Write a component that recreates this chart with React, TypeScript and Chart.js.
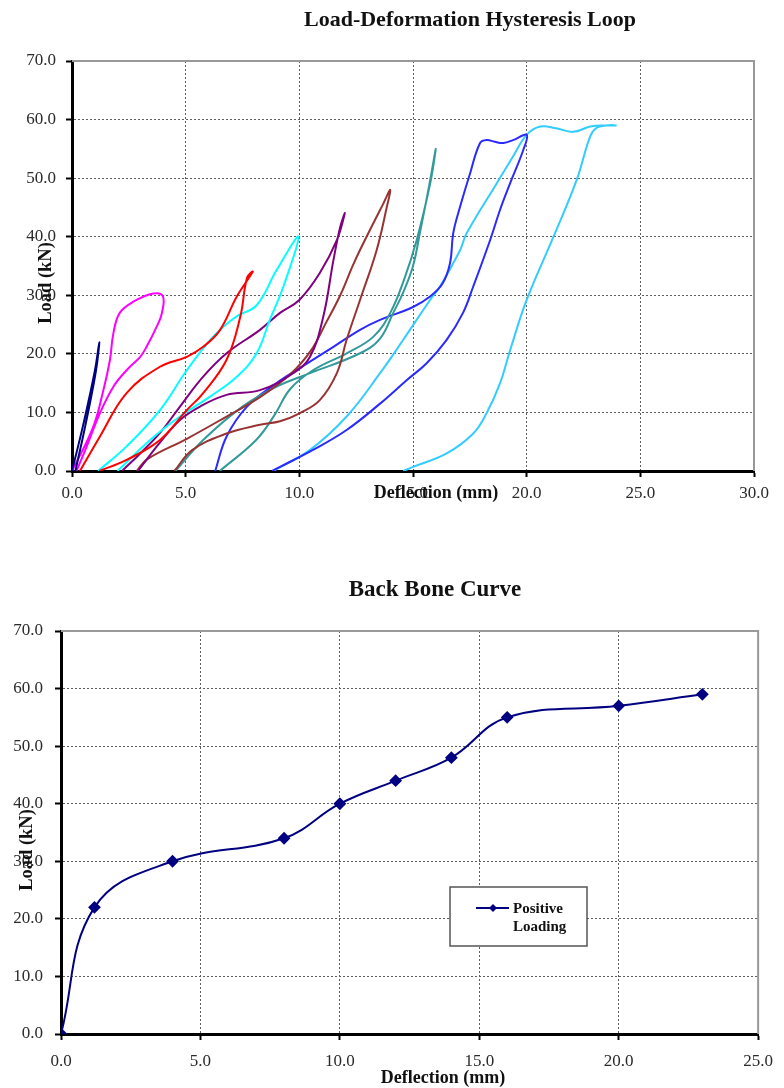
import React, { useEffect, useRef } from "react";
import { Chart, registerables } from "chart.js";

Chart.register(...registerables);

const SERIF = "'Liberation Serif', 'Times New Roman', serif";

const hystTitle = "Load-Deformation Hysteresis Loop";
const backboneTitle = "Back Bone Curve";
const xAxisTitle = "Deflection (mm)";
const yAxisTitle = "Load (kN)";
const legendLines = ["Positive", "Loading"];

const hystXMax = 30;
const backboneXMax = 25;
const loadMax = 70;

// Hysteresis loops (deflection mm, load kN)
const loop1X = [0, 0.5, 1.0, 1.2, 1.05, 0.6, 0.15];
const loop1Y = [0, 8, 17, 22, 17, 8, 0];

const loop2X = [0, 0.92, 1.38, 1.67, 1.82, 2.1, 2.7, 3.58, 4.0, 3.95, 3.72, 3.28, 3.0, 2.4, 1.82, 1.23, 0.65, 0.2];
const loop2Y = [0, 7.4, 13.8, 19, 23.5, 27, 28.9, 30.3, 29.8, 26.9, 24.6, 21.2, 19.5, 17.2, 14.4, 9.9, 4.2, 0];

const loop3X = [0.35, 1.23, 2.4, 3.87, 5.05, 5.77, 6.5, 7.25, 7.95, 7.7, 7.4, 6.8, 5.77, 5.05, 3.87, 2.4, 1.2];
const loop3Y = [0, 5.9, 13.3, 17.8, 19.5, 21.2, 24, 29.8, 34, 33, 26.3, 19, 13.3, 10.4, 5.3, 1.9, 0];

const loop4X = [1.15, 2.4, 3.87, 5.05, 6.2, 7.2, 8.12, 9.0, 9.96, 9.3, 8.7, 8.12, 7.25, 6.07, 4.75, 3.5, 2.0];
const loop4Y = [0, 4.2, 10.4, 17.2, 22.9, 26.3, 28.3, 34.3, 40, 31.5, 25.8, 20.1, 16.1, 12.7, 9.3, 5.5, 0];

const loop5X = [2.2, 3.0, 3.87, 4.75, 5.77, 6.8, 8.27, 9.15, 10.0, 10.9, 11.65, 12.0, 11.8, 11.5, 11.05, 10.47, 9.73, 8.27, 6.8, 5.63, 4.75, 3.9, 2.9];
const loop5Y = [0, 3, 6.5, 11, 16.1, 20.1, 24.1, 27, 29.2, 33.8, 39.4, 44, 41.7, 36, 26.3, 19.5, 16.7, 13.8, 13, 11, 8.7, 5, 0];

const loop6X = [2.85, 3.3, 5.05, 6.8, 8.27, 9.6, 10.5, 11.2, 11.8, 12.4, 13.1, 13.7, 14.0, 13.85, 13.4, 12.67, 12.08, 11.65, 10.9, 10.03, 9.15, 8.27, 6.8, 5.3, 4.5];
const loop6Y = [0, 2, 5.5, 9.3, 12.6, 16.5, 20.5, 25.5, 30, 35.5, 41.1, 45.7, 48, 45.1, 37.7, 29.2, 22.4, 16.7, 12.1, 9.9, 8.5, 7.9, 6.4, 3.6, 0];

const loop7X = [4.55, 5.77, 7.5, 9.0, 10.47, 12.67, 13.55, 14.13, 14.57, 15.0, 15.3, 15.7, 16.0, 15.75, 15.16, 14.6, 14.0, 13.25, 12.08, 10.6, 9.6, 8.9, 8.1, 6.5];
const loop7Y = [0, 5.3, 11, 14.4, 16.7, 20.1, 22.6, 27, 30.5, 35, 40.6, 48.5, 55, 49, 39.4, 32.6, 27, 22.9, 20.1, 17.2, 14, 9.5, 5.3, 0];

const loop8X = [6.3, 6.8, 7.7, 9.0, 10.03, 11.5, 12.67, 13.55, 15.0, 15.75, 16.3, 16.63, 16.77, 17.07, 17.51, 17.95, 18.24, 18.6, 18.98, 19.4, 20.0, 19.85, 19.27, 18.83, 18.39, 17.65, 17.2, 16.48, 15.6, 14.72, 13.55, 12.08, 10.6, 9.15, 8.8];
const loop8Y = [0, 5.9, 11, 15, 17.6, 21.2, 24.1, 25.8, 28, 29.8, 32, 35.5, 40.6, 45.1, 50.8, 56, 56.5, 56.2, 56, 56.5, 57.4, 54.8, 49.1, 44.6, 39.4, 31.5, 27, 22.4, 18.4, 15.5, 11.5, 7, 3.6, 0.7, 0];

const loop9X = [8.85, 10.47, 12.08, 13.55, 14.57, 15.75, 16.19, 17.07, 17.36, 18.68, 19.4, 20.0, 20.6, 21.3, 22.04, 22.8, 23.5, 23.96, 23.5, 23.08, 22.79, 22.2, 21.18, 20.0, 19.27, 18.83, 18.24, 17.65, 16.48, 15.0, 14.57];
const loop9Y = [0, 3.6, 9.3, 16.7, 22.4, 29.2, 31.5, 37.7, 40.6, 49.1, 53.7, 57.4, 58.8, 58.5, 57.9, 58.8, 59, 59, 59, 58.6, 57.1, 49.7, 40, 29.2, 20.6, 15, 9.9, 6.4, 3, 0.7, 0];

const loopXs = [loop1X, loop2X, loop3X, loop4X, loop5X, loop6X, loop7X, loop8X, loop9X];
const loopYs = [loop1Y, loop2Y, loop3Y, loop4Y, loop5Y, loop6Y, loop7Y, loop8Y, loop9Y];
const loopNames = ["Cycle 1", "Cycle 2", "Cycle 3", "Cycle 4", "Cycle 5", "Cycle 6", "Cycle 7", "Cycle 8", "Cycle 9"];
const loopColors = ["#000080", "#ff00ff", "#ff0000", "#00ffff", "#800080", "#993333", "#339999", "#2a2aff", "#33ccff"];

// Back bone curve
const backboneX = [0, 1.2, 4, 8, 10, 12, 14, 16, 20, 23];
const backboneY = [0, 22, 30, 34, 40, 44, 48, 55, 57, 59];

const toPoints = (xs: number[], ys: number[]) => xs.map((x, i) => ({ x, y: ys[i] }));

const fmt = (v: any) => Number(v).toFixed(1);

function makeScales(xMax: number, yWidth: number, yPad: number, xPad: number) {
  const tickFont = { family: SERIF, size: 17 };
  const grid = {
    color: "#5e5e5e",
    lineWidth: 1,
    tickColor: "#000",
    tickLength: 6,
    tickWidth: 2,
    drawTicks: true,
  };
  return {
    x: {
      type: "linear",
      min: 0,
      max: xMax,
      ticks: { stepSize: 5, callback: fmt, font: tickFont, color: "#2a2a2a", padding: xPad, maxRotation: 0 },
      grid,
      border: { display: true, color: "#000", width: 3, dash: [2, 2] },
      afterFit: (s: any) => { s.height = 40; },
    },
    y: {
      type: "linear",
      min: 0,
      max: loadMax,
      ticks: { stepSize: 10, callback: fmt, font: tickFont, color: "#2a2a2a", padding: yPad },
      grid,
      border: { display: true, color: "#000", width: 3, dash: [2, 2] },
      afterFit: (s: any) => { s.width = yWidth; },
    },
  };
}

const framePlugin = {
  id: "frame",
  beforeDatasetsDraw(chart: any) {
    const { ctx, chartArea: a } = chart;
    ctx.save();
    ctx.strokeStyle = "#999";
    ctx.lineWidth = 2;
    ctx.beginPath();
    ctx.moveTo(a.left, a.top);
    ctx.lineTo(a.right, a.top);
    ctx.lineTo(a.right, a.bottom);
    ctx.stroke();
    ctx.restore();
  },
};

function textPlugin(t: any) {
  return {
    id: "texts",
    afterDraw(chart: any) {
      const ctx = chart.ctx;
      ctx.save();
      ctx.fillStyle = "#111";
      ctx.textAlign = "center";
      ctx.textBaseline = "middle";
      ctx.font = `bold ${t.titleSize}px ${SERIF}`;
      ctx.fillText(t.title, t.titleX, t.titleY);
      ctx.font = `bold 18px ${SERIF}`;
      ctx.fillText(xAxisTitle, t.xtX, t.xtY);
      ctx.save();
      ctx.translate(t.ytX, t.ytY);
      ctx.rotate(-Math.PI / 2);
      ctx.font = `bold 18.5px ${SERIF}`;
      ctx.fillText(yAxisTitle, 0, 0);
      ctx.restore();
      if (t.legend) {
        const L = t.legend;
        ctx.fillStyle = "#fff";
        ctx.fillRect(L.x, L.y, L.w, L.h);
        ctx.strokeStyle = "#555";
        ctx.lineWidth = 1.5;
        ctx.strokeRect(L.x, L.y, L.w, L.h);
        ctx.strokeStyle = "#000080";
        ctx.lineWidth = 2;
        ctx.beginPath();
        ctx.moveTo(L.x + 26, L.y + 21);
        ctx.lineTo(L.x + 59, L.y + 21);
        ctx.stroke();
        ctx.fillStyle = "#000080";
        ctx.beginPath();
        const cx = L.x + 43, cy = L.y + 21, r = 4;
        ctx.moveTo(cx, cy - r);
        ctx.lineTo(cx + r, cy);
        ctx.lineTo(cx, cy + r);
        ctx.lineTo(cx - r, cy);
        ctx.closePath();
        ctx.fill();
        ctx.fillStyle = "#111";
        ctx.textAlign = "left";
        ctx.font = `bold 15px ${SERIF}`;
        ctx.fillText(legendLines[0], L.x + 63, L.y + 22);
        ctx.fillText(legendLines[1], L.x + 63, L.y + 40);
      }
      ctx.restore();
    },
  };
}

export default function App() {
  const topRef = useRef<HTMLCanvasElement>(null);
  const botRef = useRef<HTMLCanvasElement>(null);

  useEffect(() => {
    const top = new Chart(topRef.current as HTMLCanvasElement, {
      type: "scatter",
      data: {
        datasets: loopXs.map((xs, i) => ({
          label: loopNames[i],
          data: toPoints(xs, loopYs[i]),
          showLine: true,
          borderColor: loopColors[i],
          backgroundColor: loopColors[i],
          borderWidth: 2,
          pointRadius: 0,
          tension: 0.4,
        })),
      },
      options: {
        responsive: false,
        animation: false,
        events: [],
        layout: { padding: { left: 0, top: 61, right: 30, bottom: 33 } },
        plugins: { legend: { display: false }, title: { display: false }, tooltip: { enabled: false } },
        scales: makeScales(hystXMax, 72, 10, 6) as any,
      },
      plugins: [framePlugin, textPlugin({ title: hystTitle, titleSize: 22, titleX: 470, titleY: 20, xtX: 436, xtY: 493, ytX: 46, ytY: 283 })],
    });

    const bot = new Chart(botRef.current as HTMLCanvasElement, {
      type: "scatter",
      data: {
        datasets: [
          {
            label: "Positive Loading",
            data: toPoints(backboneX, backboneY),
            showLine: true,
            borderColor: "#000080",
            backgroundColor: "#000080",
            borderWidth: 2,
            pointStyle: "rectRot",
            pointRadius: 5,
            pointBackgroundColor: "#000080",
            pointBorderColor: "#000080",
            tension: 0.4,
          },
        ],
      },
      options: {
        responsive: false,
        animation: false,
        events: [],
        layout: { padding: { left: 0, top: 87, right: 21, bottom: 14 } },
        plugins: { legend: { display: false }, title: { display: false }, tooltip: { enabled: false } },
        scales: makeScales(backboneXMax, 61, 12, 11) as any,
      },
      plugins: [framePlugin, textPlugin({ title: backboneTitle, titleSize: 23, titleX: 435, titleY: 46, xtX: 443, xtY: 534, ytX: 27, ytY: 306, legend: { x: 450, y: 343, w: 137, h: 59 } })],
    });

    return () => {
      top.destroy();
      bot.destroy();
    };
  }, []);

  return (
    <div style={{ position: "absolute", left: 0, top: 0, width: 784, height: 1088, background: "#fff" }}>
      <canvas ref={topRef} width={784} height={544} style={{ display: "block" }} />
      <canvas ref={botRef} width={784} height={544} style={{ display: "block" }} />
    </div>
  );
}
